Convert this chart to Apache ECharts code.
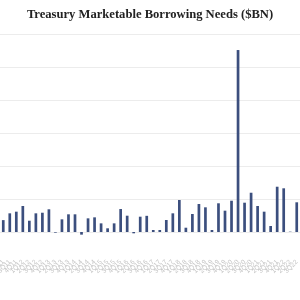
<!DOCTYPE html>
<html>
<head>
<meta charset="utf-8">
<style>html,body{margin:0;padding:0;background:#fff;}#c{width:300px;height:300px;}</style>
<script src="https://cdn.jsdelivr.net/npm/echarts@6/dist/echarts.min.js"></script>
</head>
<body>
<div id="c"></div>
<script>
const title = "Treasury Marketable Borrowing Needs ($BN)";
const categories = ["2Q11","3Q11","4Q11","1Q12","2Q12","3Q12","4Q12","1Q13","2Q13","3Q13","4Q13","1Q14","2Q14","3Q14","4Q14","1Q15",
  "2Q15","3Q15","4Q15","1Q16","2Q16","3Q16","4Q16","1Q17","2Q17","3Q17","4Q17","1Q18","2Q18","3Q18","4Q18","1Q19",
  "2Q19","3Q19","4Q19","1Q20","2Q20","3Q20","4Q20","1Q21","2Q21","3Q21","4Q21","1Q22","2Q22","3Q22"];
const borrowing = [180, 283, 308, 394, 171, 283, 292, 344, -10, 192, 268, 268, -40, 207, 222, 131, 56, 131, 348, 247, -20, 232, 245,
  30, 30, 182, 283, 485, 65, 273, 424, 374, 30, 435, 323, 474, 2757, 444, 595, 394, 308, 91, 686, 662, 5, 450];
const yTicks = [0, 500, 1000, 1500, 2000, 2500, 3000];

const chart = echarts.init(document.getElementById('c'));
chart.setOption({
  animation: false,
  title: {
    text: title, left: 'center', top: 3,
    textStyle: { fontFamily: 'Liberation Serif', fontWeight: 'bold', fontSize: 12.6, color: '#222' }
  },
  grid: { left: 0, right: 0, top: 34, bottom: 68, containLabel: false, outerBoundsMode: 'none' },
  xAxis: {
    type: 'category', data: categories,
    axisLine: { show: false }, axisTick: { show: false },
    axisLabel: { interval: 0, rotate: 45, fontSize: 6.5, color: '#c4c4c4', margin: 29, fontFamily: 'Liberation Sans', hideOverlap: false }
  },
  yAxis: {
    type: 'value', min: yTicks[0], max: yTicks[yTicks.length - 1], interval: 500,
    axisLabel: { show: false }, axisLine: { show: false }, axisTick: { show: false },
    splitLine: { lineStyle: { color: '#ececec', width: 1 } }
  },
  series: [{
    type: 'bar', data: borrowing, barWidth: 2.7, clip: false,
    itemStyle: { color: '#3c4f7e' }
  }]
});
</script>
</body>
</html>
